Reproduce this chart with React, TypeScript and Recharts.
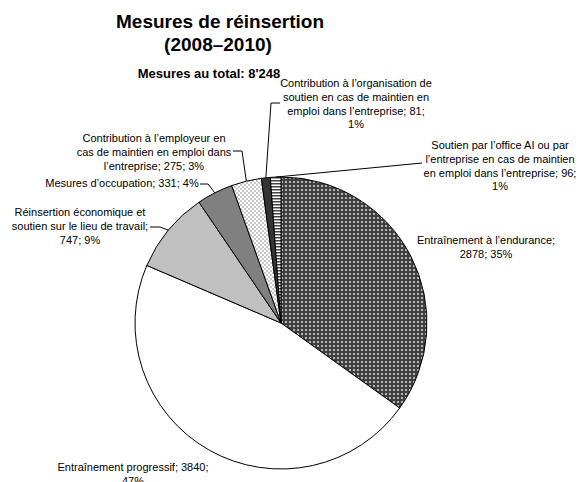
import React from "react";
import { PieChart, Pie, Cell } from "recharts";

// slices, clockwise from 12 o'clock
const categories = [
  "Entraînement à l’endurance",
  "Entraînement progressif",
  "Réinsertion économique et soutien sur le lieu de travail",
  "Mesures d’occupation",
  "Contribution à l’employeur en cas de maintien en emploi dans l’entreprise",
  "Contribution à l’organisation de soutien en cas de maintien en emploi dans l’entreprise",
  "Soutien par l’office AI ou par l’entreprise en cas de maintien en emploi dans l’entreprise",
];
const measures = [2878, 3840, 747, 331, 275, 81, 96];
const titleLines = ["Mesures de réinsertion", "(2008–2010)"];
const subtitleText = "Mesures au total";

// how many words go on each line of a data label
const wordsPerLine = [
  [3, 2],
  [3, 1],
  [3, 6, 2],
  [4],
  [4, 6, 3],
  [4, 6, 4, 1],
  [6, 5, 5, 1],
];

const total = measures.reduce((a, b) => a + b, 0);
const data = categories.map((name, i) => ({ name, value: measures[i] }));

const fills = [
  "url(#dotsDark)",
  "#ffffff",
  "#c0c0c0",
  "#808080",
  "url(#dotsLight)",
  "#333333",
  "url(#stripes)",
];

// label placement: text centre x, first line centre y, leader points after the pie edge
const labelPos: { x: number; y: number; leader: number[][] | null }[] = [
  { x: 486, y: 240, leader: null },
  { x: 133, y: 467, leader: null },
  { x: 80, y: 212, leader: [[160, 227], [150, 227]] },
  { x: 122, y: 183, leader: [[208, 184], [200, 184]] },
  { x: 154, y: 138, leader: [[242, 151], [233, 151]] },
  { x: 356, y: 83, leader: [[271, 103], [280, 103]] },
  { x: 500, y: 145, leader: [[422, 163]] },
];

const FONT = "'Liberation Sans', Arial, sans-serif";
const LINE_H = 13.8;
const RAD = Math.PI / 180;

function fmtThousands(n: number) {
  return String(n).replace(/\B(?=(\d{3})+(?!\d))/g, "'");
}

function labelLines(i: number) {
  const pct = Math.round((measures[i] / total) * 100);
  const words = `${categories[i]}; ${measures[i]}; ${pct}%`.split(" ");
  const out: string[] = [];
  let k = 0;
  for (const n of wordsPerLine[i]) {
    out.push(words.slice(k, k + n).join(" "));
    k += n;
  }
  return out;
}

function renderLabel(props: any) {
  const { cx, cy, midAngle, outerRadius, index } = props;
  const pos = labelPos[index];
  const ax = cx + Math.cos(-midAngle * RAD) * outerRadius;
  const ay = cy + Math.sin(-midAngle * RAD) * outerRadius;
  const lines = labelLines(index);
  return (
    <g key={`lbl-${index}`}>
      {pos.leader && (
        <polyline
          points={[[ax, ay], ...pos.leader].map((p) => p.join(",")).join(" ")}
          fill="none"
          stroke="#000"
          strokeWidth={1}
        />
      )}
      <text x={pos.x} y={pos.y} textAnchor="middle" fontFamily={FONT} fontSize={11} fill="#000">
        {lines.map((t, j) => (
          <tspan key={j} x={pos.x} y={pos.y + j * LINE_H} dominantBaseline="central">
            {t}
          </tspan>
        ))}
      </text>
    </g>
  );
}

export default function App() {
  return (
    <div style={{ position: "absolute", left: 0, top: 0, width: 579, height: 482, background: "#fff" }}>
      <PieChart width={579} height={482} margin={{ top: 0, right: 0, bottom: 0, left: 0 }}>
        <defs>
          <pattern id="dotsDark" width={4} height={4} patternUnits="userSpaceOnUse">
            <rect width={4} height={4} fill="#404040" />
            <rect x={1} y={1} width={2} height={2} fill="#b4b4b4" />
          </pattern>
          <pattern id="dotsLight" width={4} height={4} patternUnits="userSpaceOnUse">
            <rect width={4} height={4} fill="#ffffff" />
            <rect x={0} y={0} width={2} height={2} fill="#c8c8c8" />
            <rect x={2} y={2} width={2} height={2} fill="#c8c8c8" />
          </pattern>
          <pattern id="stripes" width={4} height={3} patternUnits="userSpaceOnUse">
            <rect width={4} height={3} fill="#ffffff" />
            <rect width={4} height={1.5} fill="#444444" />
          </pattern>
        </defs>
        <Pie
          data={data}
          dataKey="value"
          nameKey="name"
          cx={281}
          cy={323}
          outerRadius={146}
          startAngle={90}
          endAngle={-270}
          stroke="#000"
          strokeWidth={1}
          label={renderLabel}
          labelLine={false}
          isAnimationActive={false}
        >
          {data.map((d, i) => (
            <Cell key={d.name} fill={fills[i]} />
          ))}
        </Pie>
      </PieChart>
      <svg width={579} height={482} style={{ position: "absolute", left: 0, top: 0, pointerEvents: "none" }}>
        <text x={220} y={28} textAnchor="middle" fontFamily={FONT} fontWeight="bold" fontSize={19}>
          {titleLines[0]}
        </text>
        <text x={218} y={51} textAnchor="middle" fontFamily={FONT} fontWeight="bold" fontSize={19}>
          {titleLines[1]}
        </text>
        <text x={209} y={78} textAnchor="middle" fontFamily={FONT} fontWeight="bold" fontSize={13}>
          {`${subtitleText}: ${fmtThousands(total)}`}
        </text>
      </svg>
    </div>
  );
}
